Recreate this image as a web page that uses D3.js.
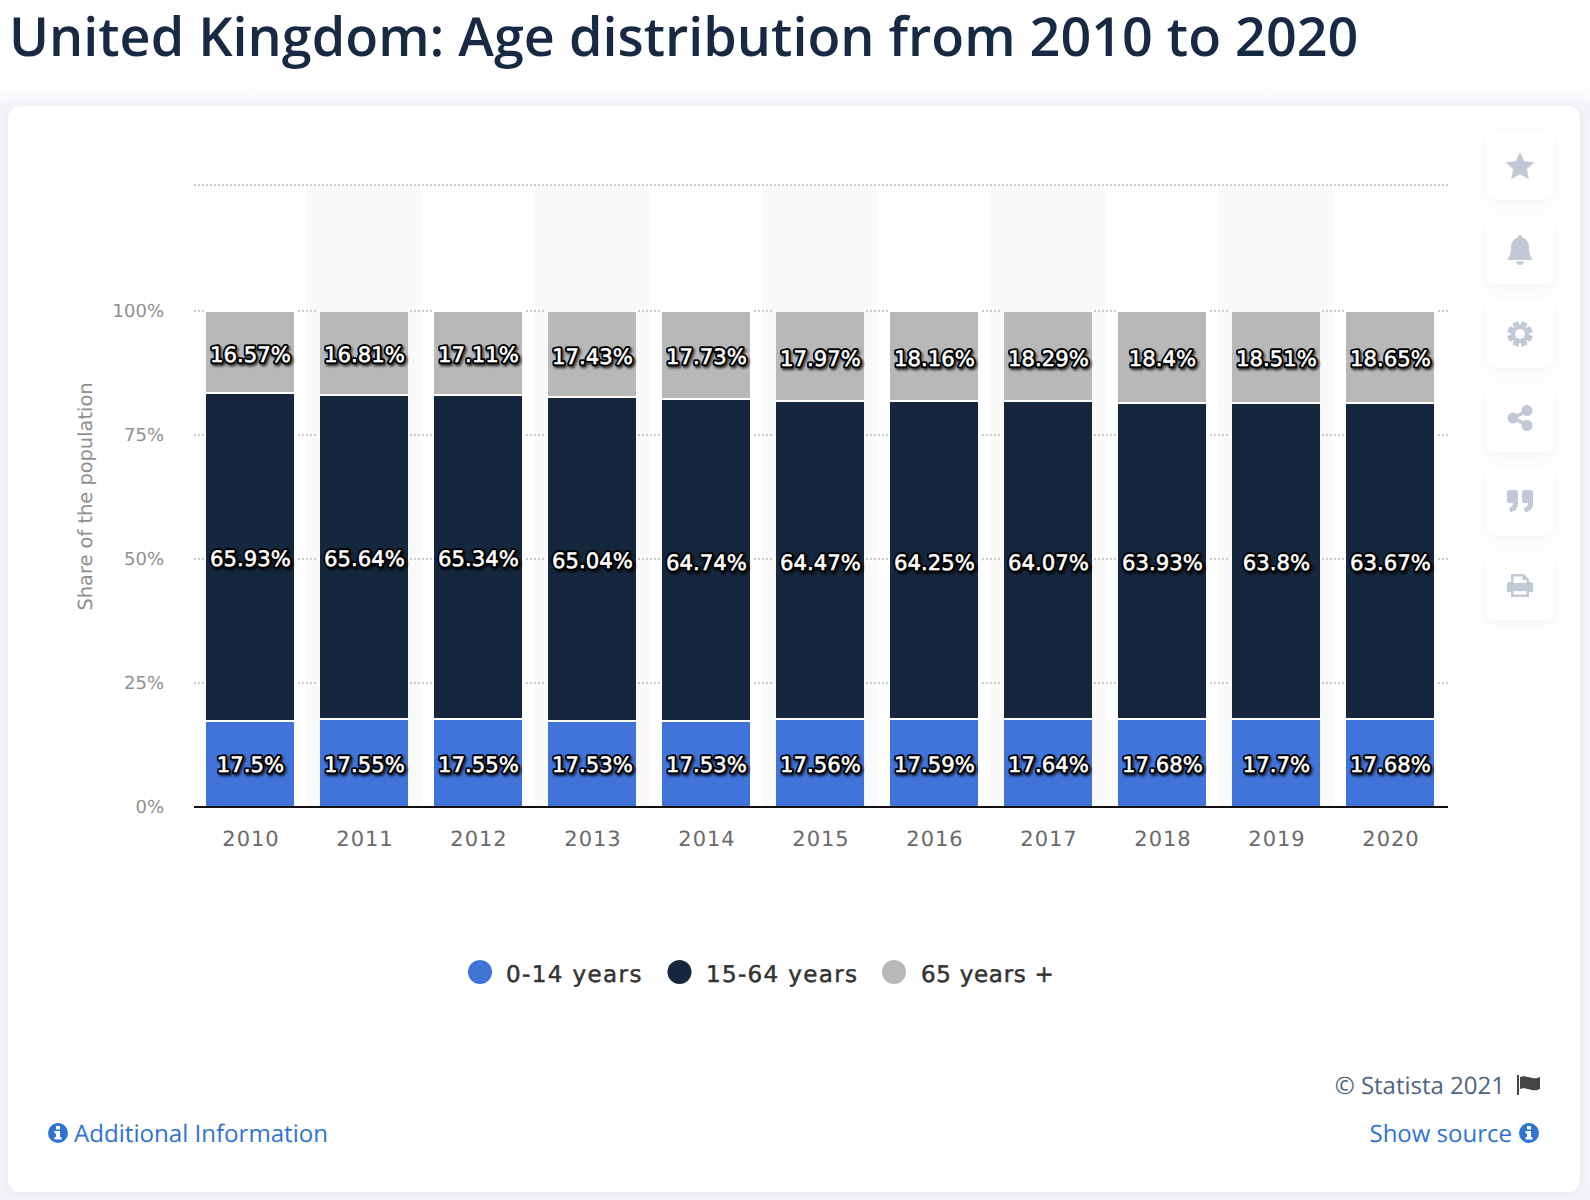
<!DOCTYPE html>
<html><head><meta charset="utf-8">
<script src="https://cdnjs.cloudflare.com/ajax/libs/d3/7.8.5/d3.min.js"></script>
<style>
html,body{margin:0;padding:0;background:#f4f5f9;}
svg{display:block;}
text{text-rendering:geometricPrecision;}
</style></head><body>
<script>
const titleText = "United Kingdom: Age distribution from 2010 to 2020";
const years = ["2010","2011","2012","2013","2014","2015","2016","2017","2018","2019","2020"];
const youngShare = [17.5,17.55,17.55,17.53,17.53,17.56,17.59,17.64,17.68,17.7,17.68];
const workingShare = [65.93,65.64,65.34,65.04,64.74,64.47,64.25,64.07,63.93,63.8,63.67];
const olderShare = [16.57,16.81,17.11,17.43,17.73,17.97,18.16,18.29,18.4,18.51,18.65];
const seriesNames = ["0-14 years","15-64 years","65 years +"];
const seriesColors = ["#4174d9","#15273d","#b8b8b8"];
const yTicks = [0,25,50,75,100];
const yTop = 125.4;

const W=1590,H=1200;
const svg=d3.select("body").append("svg").attr("width",W).attr("height",H);
const defs=svg.append("defs");
const lgr=defs.append("linearGradient").attr("id","pagetop").attr("x1",0).attr("x2",0).attr("y1",0).attr("y2",1);
lgr.append("stop").attr("offset","0%").attr("stop-color","#fff");
lgr.append("stop").attr("offset","75%").attr("stop-color","#fff");
lgr.append("stop").attr("offset","100%").attr("stop-color","#f4f5f9");
const f=defs.append("filter").attr("id","card").attr("x","-5%").attr("y","-5%").attr("width","110%").attr("height","110%");
f.append("feDropShadow").attr("dx",0).attr("dy",2).attr("stdDeviation",6).attr("flood-color","#aab2c5").attr("flood-opacity",.22);
const fb=defs.append("filter").attr("id","btn").attr("x","-30%").attr("y","-30%").attr("width","160%").attr("height","160%");
fb.append("feDropShadow").attr("dx",0).attr("dy",3).attr("stdDeviation",7).attr("flood-color","#aab2c5").attr("flood-opacity",.16);
const fl=defs.append("filter").attr("id","lab").attr("x","-10%").attr("y","-20%").attr("width","120%").attr("height","150%");
fl.append("feDropShadow").attr("dx",1.5).attr("dy",2).attr("stdDeviation",1.2).attr("flood-color","#000").attr("flood-opacity",.7);

svg.append("rect").attr("width",W).attr("height",108).attr("fill","url(#pagetop)");
svg.append("text").attr("x",9).attr("y",56).text(titleText)
 .attr("font-family","'Open Sans'").attr("font-weight",600).attr("font-size",53.9).attr("fill","#172943");
svg.append("rect").attr("x",8).attr("y",106).attr("width",1572).attr("height",1086).attr("rx",12).attr("fill","#fff").attr("filter","url(#card)");

const x=d3.scaleBand().domain(years).range([193,1447]).paddingInner(0);
const y=d3.scaleLinear().domain([0,100]).range([807,311]);
const snap=p=>719+2*Math.round((p-719)/2);
const barW=88;
const bandFill=i=>i%2==1?"#fafafa":"#fff";

// alternating bands
svg.append("g").selectAll("rect").data(years.filter((d,i)=>i%2==1)).join("rect")
 .attr("x",d=>x(d)).attr("y",y(yTop)).attr("width",x.bandwidth()).attr("height",y(0)-y(yTop)).attr("fill",bandFill(1));
// grid
svg.append("g").selectAll("line").data([...yTicks.filter(d=>d>0),yTop]).join("line")
 .attr("x1",194).attr("x2",1448).attr("y1",d=>y(d)).attr("y2",d=>y(d))
 .attr("stroke","#cbcbcb").attr("stroke-width",2).attr("stroke-dasharray","2 2");
// clearance around each column
svg.append("g").selectAll("rect").data(years).join("rect")
 .attr("x",d=>x(d)+(x.bandwidth()-barW)/2-2).attr("width",barW+4)
 .attr("y",y(100)-2).attr("height",y(0)-y(100)+2).attr("fill",(d,i)=>bandFill(i));

// stacks
const rows=years.map((yr,i)=>({year:yr,a:youngShare[i],b:workingShare[i],c:olderShare[i]}));
const stack=d3.stack().keys(["a","b","c"])(rows);
const gBars=svg.append("g");
stack.forEach((s,si)=>{
  const g=gBars.append("g");
  g.selectAll("rect").data(s).join("rect")
   .attr("x",d=>x(d.data.year)+(x.bandwidth()-barW)/2)
   .attr("width",barW)
   .attr("y",d=>{const t=si==2?y(100):snap(y(d[1]));return t+1;})
   .attr("height",d=>{const t=si==2?y(100):snap(y(d[1]));const b=si==0?y(0):snap(y(d[0]));return b-t-(si==0?1:2);})
   .attr("fill",seriesColors[si]);
});
// axis line
svg.append("line").attr("x1",194).attr("x2",1448).attr("y1",807).attr("y2",807).attr("stroke","#111").attr("stroke-width",2);

// value labels
const labelG=svg.append("g").attr("font-family","'DejaVu Sans'").attr("font-size",21.2).attr("text-anchor","middle");
stack.forEach((s,si)=>{
  s.forEach(d=>{
    const t=si==2?y(100):snap(y(d[1]));const b=si==0?y(0):snap(y(d[0]));
    const c=(t+b)/2;
    const cy=si==0?2*Math.ceil(c/2):2*Math.floor(c/2)+2;
    const v=d.data[["a","b","c"][si]];
    const cx=x(d.data.year)+x.bandwidth()/2+0.5;
    labelG.append("text").attr("x",cx).attr("y",cy).attr("dy","0.36em").text(v+"%")
      .attr("fill","none").attr("stroke","#000").attr("stroke-width",4.4).attr("stroke-linejoin","round").attr("filter","url(#lab)");
    labelG.append("text").attr("x",cx).attr("y",cy).attr("dy","0.36em").text(v+"%")
      .attr("fill","#fff").attr("stroke","#fff").attr("stroke-width",.55);
  });
});

// axes text
svg.append("g").selectAll("text").data(yTicks).join("text")
 .attr("x",164).attr("y",d=>y(d)).attr("dy","0.36em").attr("text-anchor","end")
 .text(d=>d+"%").attr("font-family","'DejaVu Sans'").attr("font-size",18).attr("fill","#8f8f8f");
svg.append("g").selectAll("text").data(years).join("text")
 .attr("x",d=>x(d)+x.bandwidth()/2+1).attr("y",838).attr("dy","0.36em").attr("text-anchor","middle")
 .text(d=>d).attr("font-family","'DejaVu Sans'").attr("font-size",21).attr("letter-spacing",1).attr("fill","#6a6a6a");
svg.append("text").attr("transform","translate(85,496.5) rotate(-90)").attr("text-anchor","middle").attr("dy","0.36em")
 .text("Share of the population").attr("font-family","'DejaVu Sans'").attr("font-size",19.4).attr("fill","#8f8f8f");

// legend
const legendCx=[480,679.5,894], legendTx=[506,706,921], legendSpacing=[1.4,1.35,0.7];
const lg=svg.append("g");
seriesNames.forEach((n,i)=>{
  lg.append("circle").attr("cx",legendCx[i]).attr("cy",972).attr("r",12).attr("fill",seriesColors[i]);
  lg.append("text").attr("x",legendTx[i]).attr("y",974).attr("dy","0.36em").text(n)
   .attr("font-family","'DejaVu Sans'").attr("font-weight",500).attr("font-size",23).attr("letter-spacing",legendSpacing[i]).attr("fill","#333").attr("stroke","#333").attr("stroke-width",.5);
});

// side buttons
const btnY=[132,216,300,384,468,552];
const iconCol="#c0c9d5";
const bg=svg.append("g");
btnY.forEach(t=>{
 bg.append("rect").attr("x",1486).attr("y",t).attr("width",68).attr("height",68).attr("rx",10).attr("fill","#fff").attr("filter","url(#btn)");
});
const cx=1520;
const starPts=d3.range(10).map(i=>[i*Math.PI/5,i%2?6.6:14]);
bg.append("path").attr("d",d3.lineRadial().curve(d3.curveLinearClosed)(starPts)).attr("transform",`translate(${cx},167)`).attr("fill",iconCol).attr("stroke",iconCol).attr("stroke-width",1).attr("stroke-linejoin","round");
// bell
bg.append("path").attr("transform",`translate(${cx},250)`).attr("fill",iconCol)
 .attr("d","M-13 10 C-9 6 -9 0 -9 -4 C-9 -9 -4 -12 -2 -13 C-2 -16 2 -16 2 -13 C4 -12 9 -9 9 -4 C9 0 9 6 13 10 Z M-4 11.5 H4 C3 16 -3 16 -4 11.5 Z");
// gear
const gear=bg.append("g").attr("transform",`translate(${cx},334)`);
d3.range(8).forEach(i=>gear.append("rect").attr("x",-3).attr("y",-12.5).attr("width",6).attr("height",25).attr("rx",1).attr("fill",iconCol).attr("transform",`rotate(${i*45+22.5})`));
gear.append("circle").attr("r",9).attr("fill",iconCol);
gear.append("circle").attr("r",5).attr("fill","#fff");
// share
const sh=bg.append("g").attr("transform",`translate(${cx},418)`).attr("fill",iconCol);
sh.append("path").attr("d","M-7 0 L7 -7 M-7 0 L7 7").attr("stroke",iconCol).attr("stroke-width",3.5);
[[-7,0],[7,-7.5],[7,7.5]].forEach(p=>sh.append("circle").attr("cx",p[0]).attr("cy",p[1]).attr("r",5.5));
// quote
const q=bg.append("g").attr("transform",`translate(${cx},501)`).attr("fill",iconCol);
[-13,2].forEach(o=>q.append("path").attr("transform",`translate(${o},-11)`).attr("d","M2 0 H9 Q11 0 11 2 V14 Q11 21 3 22 L2 18 Q6 17 6 13 H2 Q0 13 0 11 V2 Q0 0 2 0 Z"));
// print
const pr=bg.append("g").attr("transform",`translate(${cx},586)`);
pr.append("path").attr("fill",iconCol).attr("fill-rule","evenodd")
 .attr("d","M-13 -1 Q-13 -4 -10 -4 H-9 V-12 H4 L9 -7 V-4 H10 Q13 -4 13 -1 V6 H9 V11 H-9 V6 H-13 Z M-6.5 -9.5 V-3 H6.5 V-6 H2.5 V-9.5 Z M-6.5 5 V8.5 H6.5 V5 Z");

// footer
svg.append("text").attr("x",1505).attr("y",1085).attr("dy","0.36em").attr("text-anchor","end").text("© Statista 2021")
 .attr("font-family","'Open Sans'").attr("font-size",24).attr("fill","#4e6484");
bg.append("path").attr("fill","#444").attr("d","M1517 1075 h2 v20 h-2 Z M1520 1077 C1526 1074 1532 1081 1540 1077 V1089 C1532 1093 1526 1086 1520 1089 Z");
const linkCol="#2f73d2";
svg.append("text").attr("x",1512).attr("y",1133).attr("dy","0.36em").attr("text-anchor","end").text("Show source")
 .attr("font-family","'Open Sans'").attr("font-size",24).attr("fill",linkCol);
svg.append("text").attr("x",74).attr("y",1133).attr("dy","0.36em").text("Additional Information")
 .attr("font-family","'Open Sans'").attr("font-size",24.1).attr("fill",linkCol);
[58,1529].forEach(c=>{
 svg.append("circle").attr("cx",c).attr("cy",1133).attr("r",10).attr("fill",linkCol);
 svg.append("path").attr("fill","#fff").attr("transform",`translate(${c},1133)`).attr("d","M-2 -7 h4 v3.5 h-4 Z M-3.5 -2 h5.5 v6 h1.5 v2.5 h-7 v-2.5 h1.5 v-3.5 h-1.5 Z");
});
</script>
</body></html>
